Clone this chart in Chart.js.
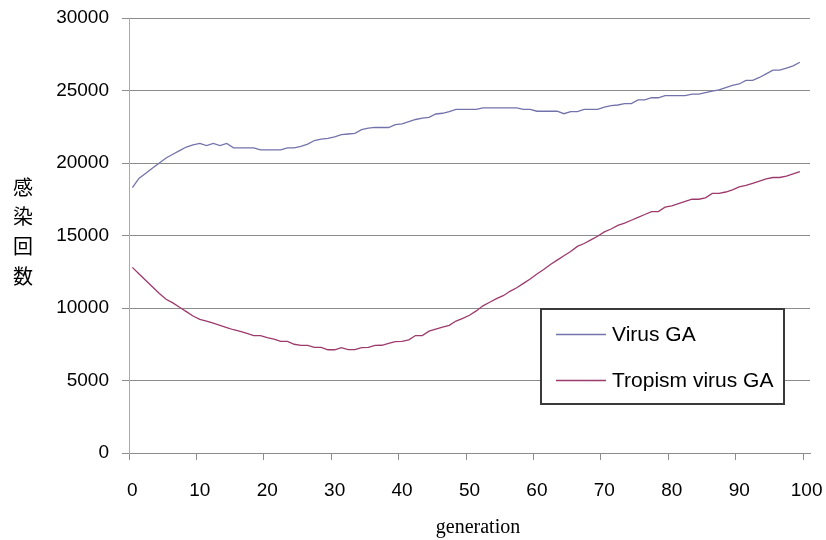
<!DOCTYPE html>
<html>
<head>
<meta charset="utf-8">
<script src="https://cdn.jsdelivr.net/npm/chart.js@4.4.0/dist/chart.umd.min.js"></script>
<style>
  html, body { margin: 0; padding: 0; background: #fff; }
  #wrap { width: 826px; height: 540px; }
</style>
</head>
<body>
<div id="wrap"><canvas id="chart"></canvas></div>
<script>
// categories 0..100 (the last one has no data, as in the original sheet)
const generations = Array.from({ length: 101 }, (_, i) => String(i));

const virusGA = [
  18300, 18950, 19300, 19650, 20000, 20350, 20600, 20850, 21100, 21250,
  21350, 21200, 21350, 21200, 21350, 21050, 21050, 21050, 21050, 20900,
  20900, 20900, 20900, 21050, 21050, 21150, 21300, 21550, 21650, 21700,
  21800, 21950, 22000, 22050, 22300, 22400, 22450, 22450, 22450, 22650,
  22700, 22850, 23000, 23100, 23150, 23380, 23430, 23550, 23700, 23700,
  23700, 23700, 23800, 23800, 23800, 23800, 23800, 23800, 23700, 23700,
  23570, 23570, 23570, 23570, 23400, 23550, 23550, 23700, 23700, 23700,
  23850, 23950, 24000, 24100, 24100, 24350, 24350, 24500, 24500, 24650,
  24650, 24650, 24650, 24750, 24750, 24850, 24950, 25050, 25200, 25350,
  25450, 25700, 25700, 25900, 26150, 26400, 26400, 26550, 26700, 26950
];

const tropismGA = [
  12800, 12350, 11900, 11450, 11000, 10600, 10350, 10050, 9750, 9450,
  9220, 9100, 8950, 8800, 8650, 8500, 8380, 8250, 8100, 8100,
  7950, 7850, 7700, 7700, 7500, 7420, 7420, 7280, 7280, 7120,
  7120, 7270, 7130, 7130, 7270, 7280, 7420, 7430, 7560, 7680,
  7700, 7800, 8100, 8100, 8400, 8550, 8680, 8800, 9100, 9280,
  9500, 9800, 10150, 10400, 10650, 10850, 11150, 11400, 11700, 12000,
  12350, 12650, 13000, 13300, 13600, 13900, 14250, 14450, 14700, 14950,
  15250, 15450, 15700, 15850, 16050, 16250, 16450, 16650, 16650, 16950,
  17050, 17200, 17350, 17500, 17500, 17600, 17900, 17900, 18000, 18150,
  18350, 18450, 18600, 18750, 18900, 19000, 19000, 19100, 19250, 19400
];

const seriesNames = ['Virus GA', 'Tropism virus GA'];
const seriesColors = ['#7373ab', '#9c3a6c'];
const yTitle = '感染回数';
const xTitle = 'generation';

// titles + legend box drawn by hand (vertical CJK title, legend inside plot)
const decorPlugin = {
  id: 'decor',
  afterDraw(chart) {
    const ctx = chart.ctx;
    ctx.save();
    ctx.fillStyle = '#000';
    ctx.textAlign = 'center';
    ctx.textBaseline = 'middle';
    ctx.font = '20px "Noto Sans CJK JP"';
    [...yTitle].forEach((ch, i) => ctx.fillText(ch, 23, 187 + i * 29.7));

    ctx.font = '20px "Liberation Serif"';
    ctx.textBaseline = 'alphabetic';
    ctx.fillText(xTitle, 478, 533);

    const lx = 541, ly = 309, lw = 243, lh = 95;
    ctx.fillStyle = '#fff';
    ctx.fillRect(lx, ly, lw, lh);
    ctx.strokeStyle = '#3a3a3a';
    ctx.lineWidth = 2;
    ctx.strokeRect(lx, ly, lw, lh);

    ctx.font = '21px "Liberation Sans"';
    ctx.textAlign = 'left';
    ctx.textBaseline = 'middle';
    chart.data.datasets.forEach((ds, i) => {
      const y = 334 + i * 46;
      ctx.strokeStyle = ds.borderColor;
      ctx.lineWidth = 1.3;
      ctx.beginPath();
      ctx.moveTo(556, y + 0.5);
      ctx.lineTo(606, y + 0.5);
      ctx.stroke();
      ctx.fillStyle = '#000';
      ctx.fillText(ds.label, 612, y + 1);
    });
    ctx.restore();
  }
};

const tickFont = { family: 'Liberation Sans', size: 19 };

new Chart(document.getElementById('chart'), {
  type: 'line',
  data: {
    labels: generations,
    datasets: [
      { label: seriesNames[0], data: virusGA, borderColor: seriesColors[0] },
      { label: seriesNames[1], data: tropismGA, borderColor: seriesColors[1] }
    ].map(ds => Object.assign(ds, {
      borderWidth: 1.3,
      pointRadius: 0,
      fill: false,
      tension: 0
    }))
  },
  options: {
    responsive: true,
    maintainAspectRatio: false,
    animation: false,
    devicePixelRatio: 1,
    layout: { padding: { top: 18, right: 16, left: 0, bottom: 0 } },
    plugins: {
      legend: { display: false },
      tooltip: { enabled: false }
    },
    scales: {
      x: {
        type: 'category',
        offset: true,
        grid: {
          offset: true,
          drawOnChartArea: false,
          tickLength: 7,
          color: c => (c.index % 10 === 0 ? '#8c8c8c' : 'rgba(0,0,0,0)')
        },
        border: { display: true, color: '#8c8c8c' },
        ticks: {
          autoSkip: false,
          maxRotation: 0,
          padding: 19,
          color: '#000',
          font: tickFont,
          callback: (value, index) => (index % 10 === 0 ? generations[index] : '')
        },
        afterFit: s => {
          s.height = 87;
          s.paddingLeft = 0;
          s.paddingRight = 0;
        }
      },
      y: {
        min: 0,
        max: 30000,
        grid: { color: '#8c8c8c', tickLength: 7 },
        border: { color: '#aaaaaa' },
        ticks: {
          stepSize: 5000,
          padding: 13,
          color: '#000',
          font: tickFont,
          callback: v => String(v)
        },
        afterFit: s => {
          s.width = 129;
          s.paddingTop = 0;
          s.paddingBottom = 0;
        }
      }
    }
  },
  plugins: [decorPlugin]
});
</script>
</body>
</html>
